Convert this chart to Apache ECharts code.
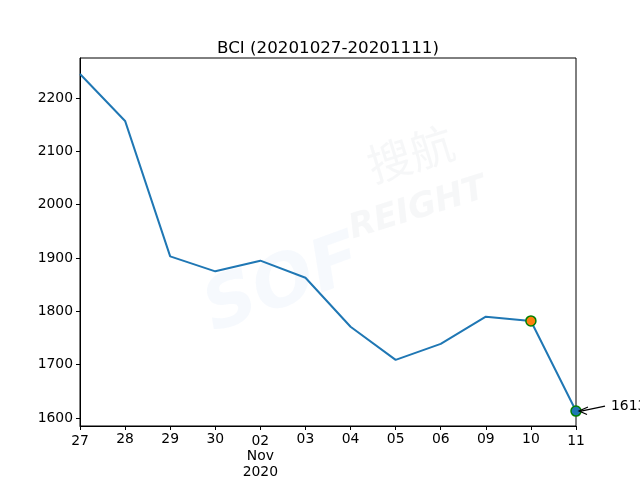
<!DOCTYPE html>
<html>
<head>
<meta charset="utf-8">
<script src="https://cdn.jsdelivr.net/npm/echarts@6/dist/echarts.min.js"></script>
<style>html,body{margin:0;padding:0;background:#fff}#c{width:640px;height:480px}</style>
</head>
<body>
<div id="c"></div>
<script>
const categories = ['27','28','29','30','02','03','04','05','06','09','10','11'];
const values = [2245, 2157, 1903, 1875, 1895, 1863, 1771, 1709, 1739, 1790, 1782, 1613];
const yTicks = [1600, 1700, 1800, 1900, 2000, 2100, 2200];
const titleText = 'BCI (20201027-20201111)';
const highlightIndex = 10;
const lastIndex = 11;

const font = 'DejaVu Sans';
const fs = 13.9;
const chart = echarts.init(document.getElementById('c'), null, {renderer: 'canvas'});

const hlData = values.map((v, i) => i === highlightIndex ? v : null);
const lastData = values.map((v, i) => i === lastIndex ? v : null);

chart.setOption({
  animation: false,
  backgroundColor: '#fff',
  title: {
    text: titleText, left: 217, top: 40, padding: 0,
    textStyle: {fontFamily: font, fontSize: 16.7, fontWeight: 'normal', color: '#000'}
  },
  grid: {left: 80, right: 64, top: 58, bottom: 54, show: true, borderColor: '#000', borderWidth: 1, backgroundColor: 'transparent'},
  xAxis: {
    type: 'category', data: categories, boundaryGap: false,
    axisLine: {lineStyle: {color: '#000', width: 1}},
    axisTick: {show: true, alignWithLabel: true, length: 4, lineStyle: {color: '#000'}},
    axisLabel: {
      color: '#000', fontFamily: font, fontSize: fs, margin: 6, interval: 0,
      formatter: function (v, i) {
        if (v === '02') return '{m|02}\n{s|Nov}\n{s|2020}';
        if (i === 0 || i === categories.length - 1) return '{m|' + v + '}';
        return v;
      },
      rich: {
        m: {fontFamily: font, fontSize: fs, color: '#000', padding: [3, 0, 0, 0], lineHeight: 16},
        s: {fontFamily: font, fontSize: fs, color: '#000', lineHeight: 16}
      }
    },
    splitLine: {show: false}
  },
  yAxis: {
    type: 'value', min: 1585, max: 2275,
    axisLine: {show: true, lineStyle: {color: '#000', width: 1}},
    axisTick: {show: true, length: 4, lineStyle: {color: '#000'}, customValues: yTicks},
    axisLabel: {color: '#000', fontFamily: font, fontSize: fs, margin: 7, customValues: yTicks,
      formatter: function (v) { return String(v); }},
    splitLine: {show: false}
  },
  series: [
    {
      type: 'line', data: values, showSymbol: false, symbol: 'none',
      lineStyle: {color: '#1f77b4', width: 2}, z: 2
    },
    {
      type: 'scatter', data: hlData, symbolSize: 10,
      itemStyle: {color: '#ff7f0e', borderColor: '#008000', borderWidth: 1.5, opacity: 1}, z: 3
    },
    {
      type: 'scatter', data: lastData, symbolSize: 10,
      itemStyle: {color: '#1f77b4', borderColor: '#008000', borderWidth: 1.5, opacity: 1}, z: 3
    }
  ]
});

// watermark (very faint)
const wm = [
  {type: 'text', left: 195, top: 225, rotation: 0.35, style: {text: 'SOF', fontFamily: font, fontSize: 72, fontWeight: 'bold', fontStyle: 'italic', fill: 'rgba(225,235,248,0.3)'}, z: 0, silent: true},
  {type: 'text', left: 362, top: 120, rotation: 0.3, style: {text: '搜航', fontFamily: 'Noto Sans CJK SC', fontSize: 44, fill: 'rgba(230,232,236,0.35)'}, z: 0, silent: true},
  {type: 'text', left: 345, top: 172, rotation: 0.3, style: {text: 'REIGHT', fontFamily: font, fontSize: 34, fontWeight: 'bold', fontStyle: 'italic', fill: 'rgba(230,232,236,0.35)'}, z: 0, silent: true}
];

// annotation for last point
const p = chart.convertToPixel({gridIndex: 0}, [lastIndex, values[lastIndex]]);
const tx = p[0] + 35, ty = p[1] - 5;
const ex = p[0] + 3, ey = p[1];
chart.setOption({
  graphic: wm.concat([
    {type: 'line', shape: {x1: tx - 6, y1: ty, x2: ex + 2, y2: ey}, style: {stroke: '#000', lineWidth: 1.2}, z: 10},
    {type: 'polyline', shape: {points: [[ex + 9, ey - 4], [ex, ey], [ex + 8, ey + 3.5]]}, style: {stroke: '#000', lineWidth: 1.2, fill: null}, z: 10},
    {type: 'text', x: tx, y: ty, style: {text: String(values[lastIndex]), fontFamily: font, fontSize: fs, fill: '#000', textVerticalAlign: 'middle', textAlign: 'left'}, z: 10}
  ])
});
</script>
</body>
</html>
